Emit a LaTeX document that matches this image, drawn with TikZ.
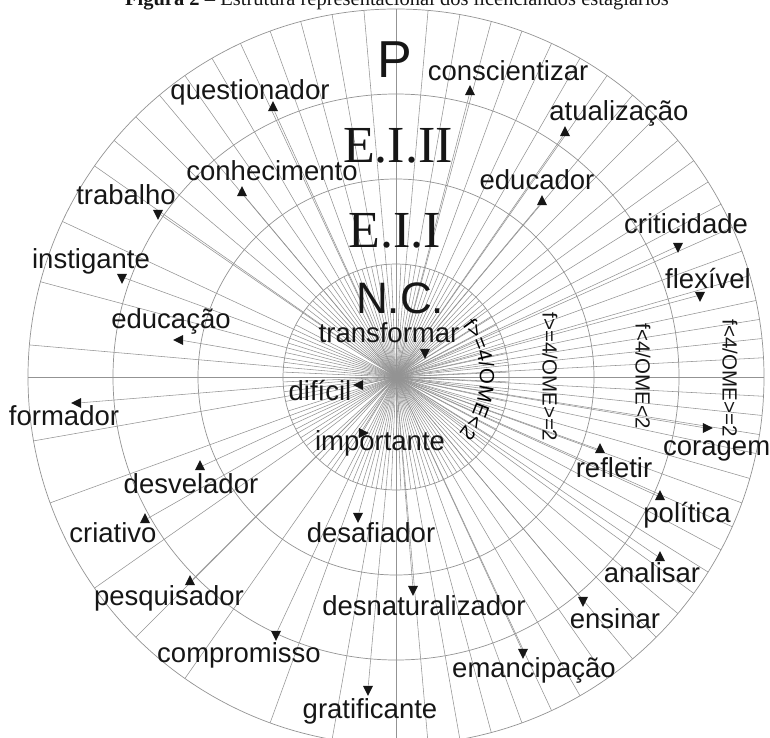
\documentclass[tikz,border=0pt]{standalone}
\usepackage{fontspec}
\setmainfont{Liberation Sans}
\newfontfamily\zoneserif{Liberation Serif}
\usetikzlibrary{shapes.geometric, decorations.text}

\definecolor{ink}{HTML}{161616}
\definecolor{rule}{HTML}{939393}

\tikzset{
  ring/.style={draw=rule, line width=0.7pt},
  spoke/.style={draw=rule, line width=0.55pt},
  %
  word/.style={font=\fontsize{27.5}{30}\selectfont, text=ink, inner sep=0pt, anchor=base},
  zone/.style={font=\fontsize{44}{48}\selectfont, text=ink, inner sep=0pt, anchor=base},
  zonet/.style={font=\zoneserif\fontsize{52}{56}\selectfont, text=ink, inner sep=0pt, anchor=base},
  crit/.style={font=\fontsize{20.5}{22}\selectfont, text=ink, inner sep=0pt, rotate=-90},
  figcap/.style={font=\zoneserif\fontsize{20.5}{24}\selectfont, text=ink, inner sep=0pt, anchor=base},
  %
  tri/.style={isosceles triangle, isosceles triangle apex angle=60,
              isosceles triangle stretches, fill=ink, draw=none, inner sep=0pt,
              minimum height=10pt, minimum width=10pt},
}

\begin{document}
\begin{tikzpicture}[x=1pt, y=1pt]
  \useasboundingbox (-396,-360) rectangle (374,377);
  \coordinate (o) at (0,0);

  % --- caption, cut by the top edge ------------------------------------
  \node[figcap] (cap) at (1,371.5)
    {\textbf{Figura 2 –} Estrutura representacional dos licenciandos estagiários};

  % --- rings and spokes --------------------------------------------------
  \foreach \r in {113,198,283,368} { \draw[ring] (o) circle[radius=\r pt]; }
  \foreach \a in {0,3,6,9,12,16,20,24,28,32,36,40,45,50,55,60,65,70,75,80,
                  85,90,95,100,105,110,115,120,125,130,135,140,145,155,165,
                  175,180,190,200,215,225,235,250,260,270,275,280,285,290,
                  295,300,305,310,315,320,324,328,332,336,340,344,348,351,
                  354,357}
    { \draw[spoke] (o) -- (\a:368); }
  % denser inside the core
  \foreach \a in {2.5,7.5,...,357.5} { \draw[spoke] (o) -- (\a:113); }

  % --- markers, each on its own ray --------------------------------------
  \foreach \nm/\px/\py/\rot in {quest/-123/269/100, consc/74/285/85,
      atual/169/244/60, conhec/-154/184/125, educador/146/175/60,
      trab/-238/164/280, crit/282/131/270, instig/-274/100/300,
      flex/304/82/290, educacao/-216/37/185, transf/29/25/280,
      dific/-36/-8/165, form/-318/-26/175, import/-34/-56/20,
      corag/310/-51/355, reflet/204/-73/95, desvel/-196/-90/95,
      polit/264/-120/100, criat/-251/-143/90, desaf/-38/-139/270,
      anal/264/-181/95, pesq/-206/-205/110, desnat/17/-212/275,
      ensin/187/-223/300, comprom/-120/-257/275, emanc/127/-275/295,
      grat/-28/-312/265}
  {
    \node[tri, shape border rotate=\rot] (t-\nm) at (\px,\py) {};
    \draw[spoke] (o) -- (t-\nm);
  }

  % --- zones -------------------------------------------------------------
  \node[zone, font=\fontsize{52}{56}\selectfont] (zp) at (-1,300) {P};
  \node[zonet] (zeii) at (2,215) {E.I.II};
  \node[zonet] (zei) at (-1,130) {E.I.I};
  \node[zone] (znc) at (4,64) {N.C.};

  \path[decorate, decoration={text along path, text align=center,
      text={|\fontsize{20.5}{22}\selectfont|f>=4/OME<2}}]
    (o) ++(37:84) arc[start angle=37, end angle=-41, radius=84pt];
  \node[crit] (c2) at (154,0) {f>=4/OME>=2};
  \node[crit] (c3) at (247,1) {f<4/OME<2};
  \node[crit] (c4) at (334,-1) {f<4/OME>=2};

  % --- evoked words ------------------------------------------------------
  \node[word] (w-quest) at (-146,278) {questionador};
  \node[word] (w-consc) at (112,296) {conscientizar};
  \node[word] (w-atual) at (223,257) {atualização};
  \node[word] (w-conhec) at (-124,197) {conhecimento};
  \node[word] (w-educador) at (141,188) {educador};
  \node[word] (w-trab) at (-270,173) {trabalho};
  \node[word] (w-crit) at (290,144) {criticidade};
  \node[word] (w-instig) at (-305,109) {instigante};
  \node[word] (w-flex) at (312,89) {flexível};
  \node[word] (w-educacao) at (-225,49) {educação};
  \node[word] (w-transf) at (-7,35) {transformar};
  \node[word] (w-dific) at (-76,-23) {difícil};
  \node[word] (w-form) at (-332,-48) {formador};
  \node[word] (w-import) at (-16,-73) {importante};
  \node[word, anchor=base west] (w-corag) at (267,-78) {coragem};
  \node[word] (w-reflet) at (218,-100) {refletir};
  \node[word] (w-desvel) at (-205,-116) {desvelador};
  \node[word] (w-polit) at (291,-145) {política};
  \node[word] (w-criat) at (-283,-165) {criativo};
  \node[word] (w-desaf) at (-25,-165) {desafiador};
  \node[word] (w-anal) at (256,-205) {analisar};
  \node[word] (w-pesq) at (-227,-228) {pesquisador};
  \node[word] (w-desnat) at (28,-238) {desnaturalizador};
  \node[word] (w-ensin) at (219,-251) {ensinar};
  \node[word] (w-comprom) at (-157,-285) {compromisso};
  \node[word] (w-emanc) at (138,-300) {emancipação};
  \node[word] (w-grat) at (-26,-341) {gratificante};

\end{tikzpicture}
\end{document}
